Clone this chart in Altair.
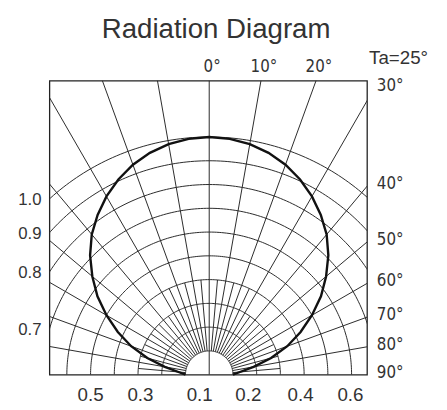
import math
import altair as alt
import pandas as pd

# ---------------- data ----------------
curve_angles = [0, 5, 10, 15, 20, 25, 30, 35, 40, 45, 50, 55, 60, 65, 70, 75, 80, 85, 90]
curve_values = [1.0, 0.996, 0.985, 0.966, 0.94, 0.906, 0.866, 0.82, 0.77, 0.71,
                0.643, 0.575, 0.50, 0.425, 0.35, 0.27, 0.19, 0.13, 0.10]

ring_values = [0.1, 0.2, 0.3, 0.4, 0.5, 0.6, 0.7, 0.8, 0.9, 1.0]
major_angles = [-80, -70, -60, -50, -40, -30, -20, -10, 0, 10, 20, 30, 40, 50, 60, 70, 80]
minor_angles = [-85, -75, -65, -55, -45, -35, -25, -15, -5, 5, 15, 25, 35, 45, 55, 65, 75, 85]

top_tick_angles = [0, 10, 20]
top_tick_labels = ["0°", "10°", "20°"]
right_tick_angles = [30, 40, 50, 60, 70, 80, 90]
right_tick_labels = ["30°", "40°", "50°", "60°", "70°", "80°", "90°"]
left_tick_values = [1.0, 0.9, 0.8, 0.7]
left_tick_labels = ["1.0", "0.9", "0.8", "0.7"]
bottom_tick_pos = [-0.50, -0.29, -0.04, 0.165, 0.385, 0.595]
bottom_tick_labels = ["0.5", "0.3", "0.1", "0.2", "0.4", "0.6"]

title_text = "Radiation Diagram"
temp_text = "Ta=25°"

# plot frame in intensity units
X_MIN, X_MAX = -0.6734, 0.665
Y_MAX = 1.2365

GRID = "#2a2a2a"
TEXT = "#333333"
NARROW = "Liberation Sans Narrow, DejaVu Sans Condensed, sans-serif"
REG = "Liberation Sans, Arial, sans-serif"

# ---------------- tables ----------------
rings = pd.DataFrame([
    {"ring": r, "t": t, "x": r * math.sin(math.radians(t)), "y": r * math.cos(math.radians(t))}
    for r in ring_values for t in range(-90, 91)
])

spoke_rows = []
for a in major_angles:
    r0 = 0.0 if a == 0 else ring_values[0]
    s, c = math.sin(math.radians(a)), math.cos(math.radians(a))
    spoke_rows.append({"x": r0 * s, "y": r0 * c, "x2": 2.0 * s, "y2": 2.0 * c})
for a in minor_angles:
    s, c = math.sin(math.radians(a)), math.cos(math.radians(a))
    r1 = ring_values[3] if abs(a) <= 25 else ring_values[2]
    spoke_rows.append({"x": ring_values[0] * s, "y": ring_values[0] * c,
                       "x2": r1 * s, "y2": r1 * c})
spokes = pd.DataFrame(spoke_rows)

curve_rows = []
for a, v in zip(curve_angles, curve_values):
    for sgn in ([1] if a == 0 else [-1, 1]):
        aa = sgn * a
        curve_rows.append({"a": aa, "x": v * math.sin(math.radians(aa)),
                           "y": v * math.cos(math.radians(aa))})
curve = pd.DataFrame(curve_rows).sort_values("a")

top_df = pd.DataFrame({"x": [Y_MAX * math.tan(math.radians(a)) for a in top_tick_angles],
                       "y": [Y_MAX] * len(top_tick_angles), "label": top_tick_labels})

right_y = []
for a in right_tick_angles:
    if a == 90:
        right_y.append(0.0)
    else:
        right_y.append(min(X_MAX / math.tan(math.radians(a)), Y_MAX))
right_df = pd.DataFrame({"x": [X_MAX] * len(right_tick_angles), "y": right_y,
                         "label": right_tick_labels})
corner_df = right_df.iloc[:1].copy()   # the 30° label sits at the top corner
corner_df["y"] = Y_MAX
side_df = right_df.iloc[1:].copy()

left_df = pd.DataFrame({"x": [X_MIN] * len(left_tick_values),
                        "y": [math.sqrt(v * v - X_MIN * X_MIN) for v in left_tick_values],
                        "label": left_tick_labels})

bottom_df = pd.DataFrame({"x": bottom_tick_pos, "y": [0.0] * len(bottom_tick_pos),
                          "label": bottom_tick_labels})

title_df = pd.DataFrame({"x": [0.0], "y": [Y_MAX], "label": [title_text]})
temp_df = pd.DataFrame({"x": [X_MAX], "y": [Y_MAX], "label": [temp_text]})

# ---------------- chart ----------------
xs = alt.Scale(domain=[X_MIN, X_MAX], nice=False, zero=False)
ys = alt.Scale(domain=[0, Y_MAX], nice=False, zero=False)
X = alt.X("x:Q", scale=xs, axis=None)
Y = alt.Y("y:Q", scale=ys, axis=None)

ring_layer = alt.Chart(rings).mark_line(clip=True, color=GRID, strokeWidth=1).encode(
    x=X, y=Y, detail="ring:N", order="t:Q")

spoke_layer = alt.Chart(spokes).mark_rule(clip=True, color=GRID, strokeWidth=1).encode(
    x=X, y=Y, x2="x2:Q", y2="y2:Q")

curve_layer = alt.Chart(curve).mark_line(color="#111111", strokeWidth=2.4).encode(
    x=X, y=Y, order="a:Q")


def text_layer(df, **kw):
    return alt.Chart(df).mark_text(color=TEXT, **kw).encode(x=X, y=Y, text="label:N")


top_layer = text_layer(top_df, font=NARROW, fontSize=17, align="center",
                       baseline="alphabetic", dx=3, dy=-9)
corner_layer = text_layer(corner_df, font=NARROW, fontSize=17, align="left",
                          baseline="middle", dx=10, dy=5)
right_layer = text_layer(side_df, font=NARROW, fontSize=17, align="left",
                         baseline="middle", dx=10, dy=-2)
left_layer = text_layer(left_df, font=REG, fontSize=17, align="right",
                        baseline="middle", dx=-8, dy=1)
bottom_layer = text_layer(bottom_df, font=REG, fontSize=19, align="center",
                          baseline="middle", dy=21)
title_layer = text_layer(title_df, font=REG, fontSize=28, align="center",
                         baseline="alphabetic", dx=7, dy=-43)
temp_layer = text_layer(temp_df, font=REG, fontSize=19, align="center",
                        baseline="alphabetic", dx=32, dy=-17)

chart = alt.layer(
    ring_layer, spoke_layer, curve_layer,
    top_layer, corner_layer, right_layer, left_layer, bottom_layer, title_layer, temp_layer
).properties(
    width=322, height=298,
    padding={"left": 42, "top": 71, "right": 73, "bottom": 31},
    autosize=alt.AutoSizeParams(type="none"),
).configure_view(stroke="#222222", strokeWidth=1.3)

chart.save("out.html", embed_options={"renderer": "svg", "actions": False})
